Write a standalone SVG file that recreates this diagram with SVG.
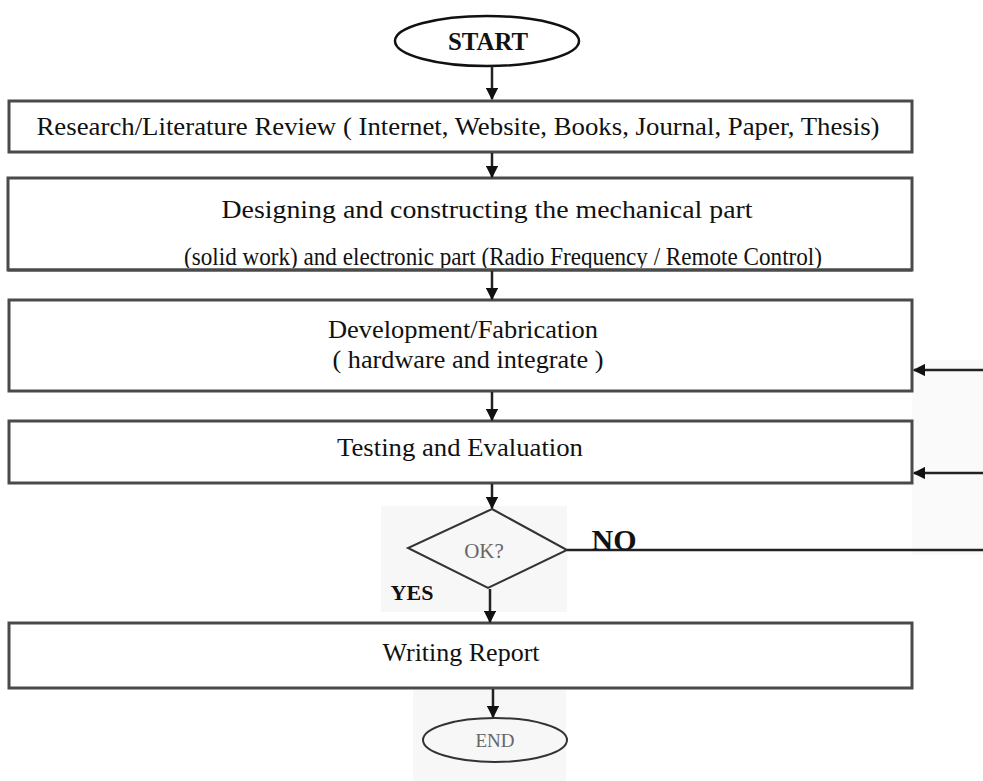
<svg xmlns="http://www.w3.org/2000/svg" width="983" height="781" viewBox="0 0 983 781">
<style>
.box{fill:#fff;stroke:#4a4a4a;stroke-width:3}
.t{font-family:"Liberation Serif","Times New Roman",serif;font-size:26px;fill:#111;text-anchor:middle}
.b{font-weight:bold}
.ln{stroke:#222;stroke-width:2.5;fill:none}
.patch{fill:#f7f7f7}
</style>
<defs>
<marker id="ah" viewBox="0 0 10 10" refX="9" refY="5" markerWidth="5" markerHeight="5" orient="auto">
<path d="M0,0 L10,5 L0,10 z" fill="#111"/>
</marker>
<clipPath id="c2"><rect x="8" y="178" width="905" height="90"/></clipPath>
</defs>
<rect width="983" height="781" fill="#fff"/>
<rect class="patch" x="381" y="506" width="186" height="106"/>
<rect class="patch" x="413" y="690" width="153" height="91"/>
<rect x="912" y="360" width="71" height="195" fill="#fafafa"/>

<g id="start">
<ellipse cx="487" cy="41" rx="92" ry="25" fill="#fff" stroke="#111" stroke-width="2.5"/>
<text class="t b" x="488" y="50" textLength="80" lengthAdjust="spacingAndGlyphs">START</text>
</g>
<g id="research">
<rect class="box" x="9" y="101" width="903" height="51"/>
<text class="t" x="458" y="135" textLength="843" lengthAdjust="spacingAndGlyphs">Research/Literature Review ( Internet, Website, Books, Journal, Paper, Thesis)</text>
</g>
<g id="design">
<rect class="box" x="8" y="178" width="904" height="92"/>
<text class="t" x="487" y="218" textLength="531" lengthAdjust="spacingAndGlyphs">Designing and constructing the mechanical part</text>
<text class="t" x="503" y="265" textLength="638" lengthAdjust="spacingAndGlyphs" clip-path="url(#c2)">(solid work) and electronic part (Radio Frequency / Remote Control)</text>
<line x1="8" y1="270" x2="912" y2="270" stroke="#4a4a4a" stroke-width="3"/>
</g>
<g id="develop">
<rect class="box" x="9" y="300" width="903" height="91"/>
<text class="t" x="463" y="338" textLength="270" lengthAdjust="spacingAndGlyphs">Development/Fabrication</text>
<text class="t" x="468" y="368" textLength="271" lengthAdjust="spacingAndGlyphs">( hardware and integrate )</text>
</g>
<g id="testing">
<rect class="box" x="9" y="421" width="903" height="62"/>
<text class="t" x="460" y="456" textLength="246" lengthAdjust="spacingAndGlyphs">Testing and Evaluation</text>
</g>
<g id="decision">
<polygon points="492,509 567,550 488,588 408,548" fill="none" stroke="#333" stroke-width="2"/>
<text x="484" y="558" font-family="Liberation Serif, serif" font-size="21" fill="#666" text-anchor="middle">OK?</text>
</g>
<g id="report">
<rect class="box" x="9" y="623" width="903" height="65"/>
<text class="t" x="461" y="661" textLength="157" lengthAdjust="spacingAndGlyphs">Writing Report</text>
</g>
<g id="end">
<ellipse cx="495" cy="740" rx="72" ry="22" fill="none" stroke="#333" stroke-width="2"/>
<text x="495" y="747" font-family="Liberation Serif, serif" font-size="19" fill="#666" text-anchor="middle">END</text>
</g>

<g id="connectors">
<line class="ln" x1="492" y1="66" x2="492" y2="99" marker-end="url(#ah)"/>
<line class="ln" x1="492" y1="153" x2="492" y2="177" marker-end="url(#ah)"/>
<line class="ln" x1="492" y1="271" x2="492" y2="299" marker-end="url(#ah)"/>
<line class="ln" x1="492" y1="392" x2="492" y2="420" marker-end="url(#ah)"/>
<line class="ln" x1="492" y1="484" x2="492" y2="508" marker-end="url(#ah)"/>
<line class="ln" x1="490" y1="589" x2="490" y2="622" marker-end="url(#ah)"/>
<line class="ln" x1="493" y1="689" x2="493" y2="717" marker-end="url(#ah)"/>
<line class="ln" x1="567" y1="550" x2="983" y2="550" stroke="#444"/>
<line class="ln" x1="983" y1="370" x2="914" y2="370" stroke="#555" marker-end="url(#ah)"/>
<line class="ln" x1="983" y1="473" x2="914" y2="473" stroke="#555" marker-end="url(#ah)"/>
<text class="t b" x="614" y="550" style="font-size:30px">NO</text>
<text class="t b" x="412" y="600" style="font-size:22px">YES</text>
</g>
</svg>
